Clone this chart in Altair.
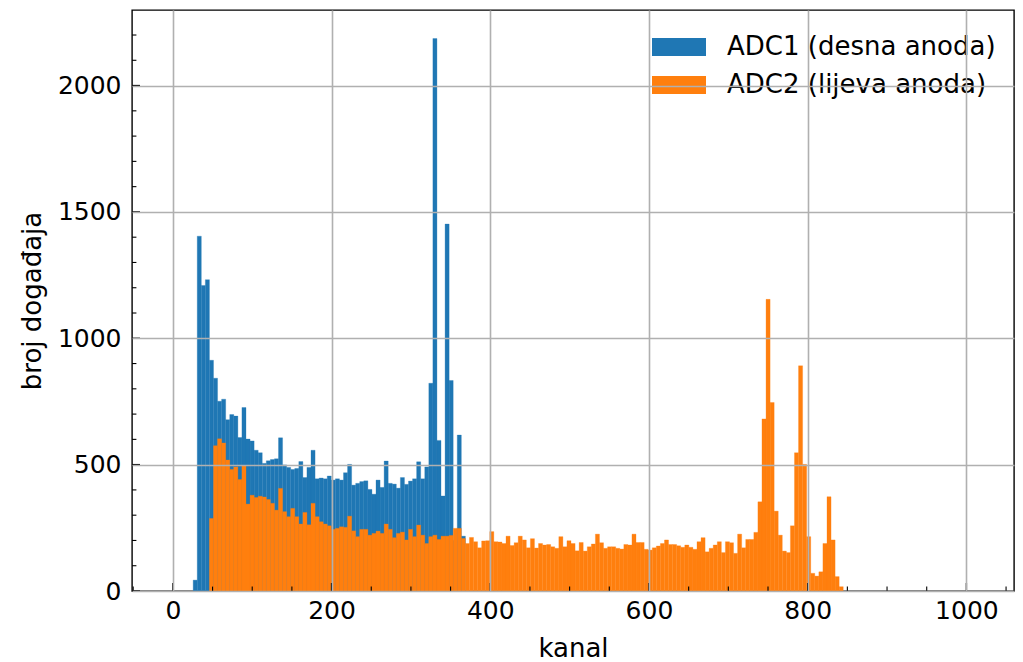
import altair as alt
import pandas as pd

# ---------------- data ----------------
SERIES = ["ADC1 (desna anoda)", "ADC2 (lijeva anoda)"]
COLORS = ["#1f77b4", "#ff7f0e"]
BIN_WIDTH = 5.12          # 200 bins over 0..1024 channels
ADC1_FIRST_BIN = 5        # index of first non-empty bin
ADC2_FIRST_BIN = 9

adc1_counts = [43, 1404, 1209, 1232, 913, 842, 751, 759, 678, 698, 692, 607, 726, 601,
               594, 557, 547, 505, 515, 520, 523, 606, 499, 489, 481, 485, 512, 449,
               489, 557, 444, 447, 444, 455, 439, 444, 439, 468, 501, 419, 426, 433,
               436, 402, 383, 439, 410, 514, 426, 423, 407, 449, 422, 435, 444, 511,
               444, 491, 822, 2186, 596, 376, 1452, 833, 200, 617, 217]

adc2_counts = [287, 575, 602, 586, 518, 481, 491, 441, 495, 344, 379, 370, 375, 372,
               362, 347, 320, 406, 314, 294, 327, 294, 265, 311, 262, 347, 294, 274,
               265, 258, 244, 248, 254, 252, 296, 238, 215, 244, 244, 221, 228, 237,
               228, 265, 244, 211, 228, 233, 202, 244, 215, 261, 221, 188, 215, 221,
               204, 217, 217, 220, 248, 248, 208, 188, 212, 195, 171, 198, 199, 235,
               195, 194, 188, 217, 180, 191, 217, 202, 171, 207, 170, 188, 182, 184,
               175, 169, 215, 175, 199, 188, 159, 192, 158, 175, 186, 225, 191, 169,
               175, 175, 169, 166, 184, 182, 225, 192, 192, 165, 162, 171, 178, 188,
               202, 184, 184, 179, 173, 182, 173, 165, 195, 211, 155, 169, 182, 195,
               152, 195, 191, 149, 225, 171, 204, 204, 232, 353, 681, 1154, 746, 316,
               221, 158, 152, 258, 547, 891, 501, 215, 70, 59, 76, 188, 373, 202, 57, 17]

x_major = [0, 200, 400, 600, 800, 1000]
x_minor = [-50, 50, 100, 150, 250, 300, 350, 450, 500, 550, 650, 700, 750, 850, 900, 950, 1050]
y_major = [0, 500, 1000, 1500, 2000]
y_minor = [100, 200, 300, 400, 600, 700, 800, 900, 1100, 1200, 1300, 1400,
           1600, 1700, 1800, 1900, 2100, 2200]

X_DOMAIN = [-51.5, 1060]
Y_DOMAIN = [0, 2299]

# ---------------- tables ----------------
rows = []
for name, first, counts in [(SERIES[0], ADC1_FIRST_BIN, adc1_counts),
                            (SERIES[1], ADC2_FIRST_BIN, adc2_counts)]:
    for i, c in enumerate(counts):
        k = first + i
        rows.append({"serija": name, "x0": k * BIN_WIDTH, "x1": (k + 1) * BIN_WIDTH,
                     "broj": c, "red": 0 if name == SERIES[0] else 1})
hist = pd.DataFrame(rows)

W, H = 882, 581
FONT = "DejaVu Sans"
FS = 25
FS_T = 26
MAJ, MIN = 8, 4.4

xs = alt.Scale(domain=X_DOMAIN, nice=False, zero=False)
ys = alt.Scale(domain=Y_DOMAIN, nice=False, zero=False)
cs = alt.Scale(domain=SERIES, range=COLORS)

ax_x = alt.Axis(values=x_major, format="d", grid=True, ticks=False, domain=False,
                labelFontSize=FS, labelPadding=7, labelColor="black",
                titleFontSize=FS_T, titleFontWeight="normal", titleColor="black",
                titlePadding=12, gridColor="#b0b0b0", gridWidth=1.6,
                zindex=1, labelFlush=False)
ax_y = alt.Axis(values=y_major, format="d", grid=True, ticks=False, domain=False,
                labelFontSize=FS, labelPadding=11, labelColor="black",
                titleFontSize=FS_T, titleFontWeight="normal", titleColor="black",
                titlePadding=12, gridColor="#b0b0b0", gridWidth=1.6,
                zindex=1, labelFlush=False)
XT, YT = "kanal", "broj događaja"

rect_path = "M-1,-0.33L1,-0.33L1,0.33L-1,0.33Z"

bars = alt.Chart(hist).mark_rect(strokeWidth=0.3).encode(
    x=alt.X("x0:Q", scale=xs, title=XT, axis=ax_x),
    x2="x1:Q",
    y=alt.Y("broj:Q", scale=ys, title=YT, axis=ax_y),
    y2=alt.datum(0),
    color=alt.Color("serija:N", scale=cs, title=None,
                    legend=alt.Legend(orient="none", legendX=520, legendY=18,
                                      symbolType=rect_path, symbolSize=2916,
                                      symbolStrokeWidth=0, symbolOpacity=1,
                                      labelFontSize=FS_T, labelColor="black",
                                      labelOffset=21, rowPadding=0, clipHeight=38,
                                      labelLimit=500, padding=0)),
    stroke=alt.Stroke("serija:N", scale=cs, legend=None),
    order=alt.Order("red:Q"),
)

tick_x_maj = alt.Chart(pd.DataFrame({"v": x_major})).mark_rule(color="black", strokeWidth=1.4).encode(
    x=alt.X("v:Q", scale=xs, title=XT, axis=ax_x), y=alt.value(H), y2=alt.value(H - MAJ))
tick_x_min = alt.Chart(pd.DataFrame({"v": x_minor})).mark_rule(color="black", strokeWidth=1.1).encode(
    x=alt.X("v:Q", scale=xs, title=XT, axis=ax_x), y=alt.value(H), y2=alt.value(H - MIN))
tick_y_maj = alt.Chart(pd.DataFrame({"v": y_major})).mark_rule(color="black", strokeWidth=1.4).encode(
    y=alt.Y("v:Q", scale=ys, title=YT, axis=ax_y), x=alt.value(0), x2=alt.value(MAJ))
tick_y_min = alt.Chart(pd.DataFrame({"v": y_minor})).mark_rule(color="black", strokeWidth=1.1).encode(
    y=alt.Y("v:Q", scale=ys, title=YT, axis=ax_y), x=alt.value(0), x2=alt.value(MIN))

chart = alt.layer(bars, tick_x_maj, tick_x_min, tick_y_maj, tick_y_min).properties(
    width=W, height=H,
    autosize=alt.AutoSizeParams(type="none"),
    padding={"left": 124, "top": 2, "right": 1, "bottom": 74},
).configure(font=FONT).configure_view(stroke="black", strokeWidth=1.4)

chart.save("out.html", embed_options={"renderer": "svg", "actions": False})
